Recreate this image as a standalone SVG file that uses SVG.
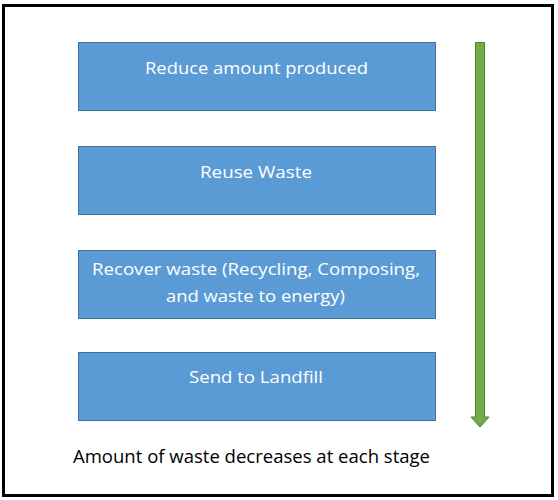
<svg xmlns="http://www.w3.org/2000/svg" width="558" height="500" viewBox="0 0 558 500">
<style>
.box{fill:#5B9BD5;stroke:#41719C;stroke-width:1}
.lbl{font-family:"Open Sans","Liberation Sans",Arial,sans-serif;font-size:17px;fill:#FFFFFF;text-anchor:middle}
.cap{font-family:"Open Sans","Liberation Sans",Arial,sans-serif;font-size:18px;fill:#000000}
</style>
<rect x="0" y="0" width="558" height="500" fill="#FFFFFF"/>
<rect id="frame" x="3.5" y="5.5" width="549" height="490" fill="none" stroke="#000000" stroke-width="3"/>
<g id="reduce">
<rect class="box" x="78.5" y="42.5" width="357" height="68"/>
<text class="lbl" x="256.5" y="74" textLength="223" lengthAdjust="spacingAndGlyphs">Reduce amount produced</text>
</g>
<g id="reuse">
<rect class="box" x="78.5" y="146.5" width="357" height="68"/>
<text class="lbl" x="256" y="178" textLength="112" lengthAdjust="spacingAndGlyphs">Reuse Waste</text>
</g>
<g id="recover">
<rect class="box" x="78.5" y="250.5" width="357" height="68"/>
<text class="lbl" x="256" y="275" textLength="328" lengthAdjust="spacingAndGlyphs">Recover waste (Recycling, Composing,</text>
<text class="lbl" x="255.5" y="302" textLength="179" lengthAdjust="spacingAndGlyphs">and waste to energy)</text>
</g>
<g id="landfill">
<rect class="box" x="78.5" y="352.5" width="357" height="68"/>
<text class="lbl" x="256" y="383" textLength="134" lengthAdjust="spacingAndGlyphs">Send to Landfill</text>
</g>
<g id="connectors">
<path d="M475.5,42.5 H484.5 V417 H489 L480,427 L471,417 H475.5 Z" fill="#70AD47" stroke="#507E32" stroke-width="1"/>
</g>
<g id="caption">
<text class="cap" x="73" y="463" textLength="357" lengthAdjust="spacingAndGlyphs">Amount of waste decreases at each stage</text>
</g>
</svg>
